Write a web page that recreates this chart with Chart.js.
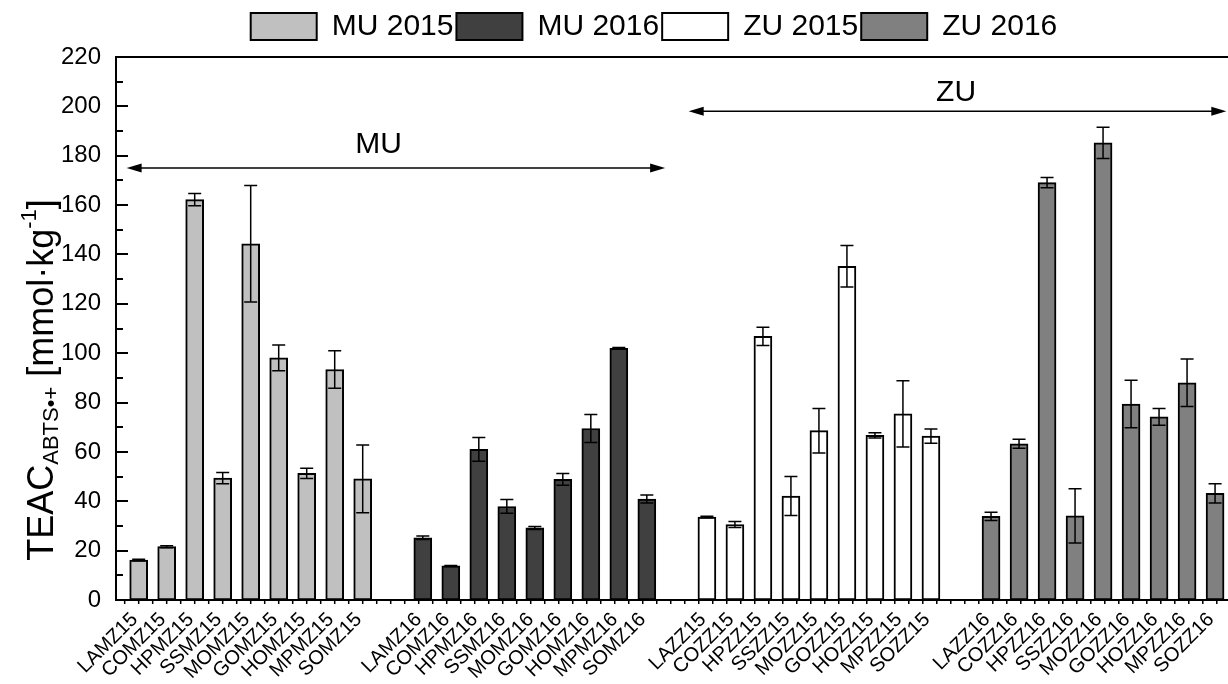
<!DOCTYPE html>
<html><head><meta charset="utf-8">
<script src="https://cdn.jsdelivr.net/npm/chart.js@4.4.1/dist/chart.umd.min.js"></script>
<style>html,body{margin:0;padding:0;background:#fff;}#wrap{width:1228px;height:684px;position:relative;}</style>
</head><body><div id="wrap"><canvas id="c" width="1228" height="684"></canvas></div>
<script>
// ---------- data ----------
const seriesNames = ['MU 2015', 'MU 2016', 'ZU 2015', 'ZU 2016'];
const mu15Labels = ['LAMZ15','COMZ15','HPMZ15','SSMZ15','MOMZ15','GOMZ15','HOMZ15','MPMZ15','SOMZ15'];
const mu16Labels = ['LAMZ16','COMZ16','HPMZ16','SSMZ16','MOMZ16','GOMZ16','HOMZ16','MPMZ16','SOMZ16'];
const zu15Labels = ['LAZZ15','COZZ15','HPZZ15','SSZZ15','MOZZ15','GOZZ15','HOZZ15','MPZZ15','SOZZ15'];
const zu16Labels = ['LAZZ16','COZZ16','HPZZ16','SSZZ16','MOZZ16','GOZZ16','HOZZ16','MPZZ16','SOZZ16'];
const mu15Values = [16.2, 21.6, 162.2, 49.4, 144.3, 98.1, 51.3, 93.4, 49.1];
const mu15Errors = [0.3, 0.4, 2.5, 2.3, 23.6, 5.2, 2.1, 7.6, 13.7];
const mu16Values = [25.2, 13.8, 61.0, 37.9, 29.2, 48.9, 69.5, 102.0, 40.9];
const mu16Errors = [0.7, 0.2, 4.8, 2.8, 0.6, 2.4, 5.7, 0.3, 1.6];
const zu15Values = [33.6, 30.6, 106.8, 42.1, 68.6, 135.2, 66.7, 75.4, 66.4];
const zu15Errors = [0.3, 1.2, 3.7, 7.9, 9.0, 8.4, 1.1, 13.4, 2.9];
const zu16Values = [33.9, 63.3, 169.1, 34.1, 185.2, 79.4, 74.2, 88.0, 43.2];
const zu16Errors = [1.7, 1.8, 2.1, 11.0, 6.3, 9.6, 3.4, 9.6, 3.9];
const yTickValues = [0, 20, 40, 60, 80, 100, 120, 140, 160, 180, 200, 220];
const groupTitles = ['MU', 'ZU'];

// ---------- layout / style ----------
const FONT = '"Liberation Sans", Arial, Helvetica, sans-serif';
const GAP = 2.146;               // spacing between groups (in bar slots)
const colors = ['#c0c0c0', '#404040', '#ffffff', '#808080'];
const groupLabels = [mu15Labels, mu16Labels, zu15Labels, zu16Labels];
const groupValues = [mu15Values, mu16Values, zu15Values, zu16Values];
const groupErrors = [mu15Errors, mu16Errors, zu15Errors, zu16Errors];
function slot(g, i) { return g * (8 + GAP) + i; }
const allPositions = [], allLabels = [];
groupLabels.forEach((labs, g) => labs.forEach((l, i) => { allPositions.push(slot(g, i)); allLabels.push(l); }));

// annotation layout (x in slot units, y in data units)
const annotations = [
  {text: groupTitles[0], x1: -0.43, x2: 18.8, y: 175, tx: 8.57, ty: 184.5},
  {text: groupTitles[1], x1: 19.64, x2: 38.84, y: 198, tx: 29.19, ty: 205.6}
];

const datasets = groupValues.map((vals, g) => ({
  label: seriesNames[g],
  data: vals.map((v, i) => ({x: slot(g, i), y: v})),
  errors: groupErrors[g],
  backgroundColor: colors[g],
  borderColor: '#000',
  borderWidth: 2,
  borderSkipped: false,
  barThickness: 18,
  grouped: false
}));

const legendFit = {
  id: 'legendFit',
  afterInit(chart) {
    const lg = chart.legend;
    if (!lg) return;
    const origFit = lg.fit.bind(lg);
    lg.fit = function () { origFit(); this.height = 48.5; };
    const origDraw = lg.draw.bind(lg);
    lg.draw = function () { const c = this.ctx; c.save(); c.translate(40, 0); origDraw(); c.restore(); };
  }
};

const errorBars = {
  id: 'errorBars',
  afterDatasetsDraw(chart) {
    const ctx = chart.ctx, ys = chart.scales.y;
    chart.data.datasets.forEach((ds, di) => {
      const meta = chart.getDatasetMeta(di);
      meta.data.forEach((bar, i) => {
        const v = ds.data[i].y, e = ds.errors[i];
        const x = bar.x, yt = ys.getPixelForValue(v + e), yb = ys.getPixelForValue(v - e);
        ctx.save();
        ctx.strokeStyle = '#000'; ctx.lineWidth = 1.5;
        ctx.beginPath();
        ctx.moveTo(x, yt); ctx.lineTo(x, yb);
        ctx.moveTo(x - 6.5, yt); ctx.lineTo(x + 6.5, yt);
        ctx.moveTo(x - 6.5, yb); ctx.lineTo(x + 6.5, yb);
        ctx.stroke();
        ctx.restore();
      });
    });
  }
};

const axisDecor = {
  id: 'axisDecor',
  afterDraw(chart) {
    const ctx = chart.ctx, a = chart.chartArea, ys = chart.scales.y, xs = chart.scales.x;
    ctx.save();
    ctx.strokeStyle = '#000'; ctx.lineWidth = 2;
    ctx.beginPath();
    ctx.moveTo(a.left - 1, a.top); ctx.lineTo(a.right, a.top);
    for (let v = 0; v <= 220; v += 10) {
      const p = Math.round(ys.getPixelForValue(v));
      const len = (v % 20 === 0) ? 12 : 7;
      ctx.moveTo(a.left, p); ctx.lineTo(a.left + len, p);
    }
    ctx.stroke();
    ctx.lineWidth = 1.5;
    ctx.beginPath();
    for (let v = -0.5; v <= xs.max; v += 0.5) {
      const p = xs.getPixelForValue(v);
      ctx.moveTo(p, a.bottom); ctx.lineTo(p, a.bottom + 4);
    }
    ctx.stroke();
    ctx.restore();
  }
};

const groupArrows = {
  id: 'groupArrows',
  afterDraw(chart) {
    const ctx = chart.ctx, xs = chart.scales.x, ys = chart.scales.y;
    ctx.save();
    annotations.forEach(an => {
      const x1 = xs.getPixelForValue(an.x1), x2 = xs.getPixelForValue(an.x2), y = ys.getPixelForValue(an.y);
      ctx.strokeStyle = '#000'; ctx.fillStyle = '#000'; ctx.lineWidth = 1.5;
      ctx.beginPath(); ctx.moveTo(x1 + 10, y); ctx.lineTo(x2 - 10, y); ctx.stroke();
      ctx.beginPath(); ctx.moveTo(x1, y); ctx.lineTo(x1 + 15, y - 4.5); ctx.lineTo(x1 + 15, y + 4.5); ctx.closePath(); ctx.fill();
      ctx.beginPath(); ctx.moveTo(x2, y); ctx.lineTo(x2 - 15, y - 4.5); ctx.lineTo(x2 - 15, y + 4.5); ctx.closePath(); ctx.fill();
      ctx.font = '30px ' + FONT; ctx.textAlign = 'center'; ctx.textBaseline = 'middle';
      ctx.fillText(an.text, xs.getPixelForValue(an.tx), ys.getPixelForValue(an.ty));
    });
    ctx.restore();
  }
};

const yTitle = {
  id: 'yTitle',
  afterDraw(chart) {
    const ctx = chart.ctx;
    const parts = [
      {t: 'TEAC', size: 36, dy: 0},
      {t: 'ABTS\u2022+', size: 22, dy: 5},
      {t: ' [mmol\u00B7kg', size: 36, dy: 0},
      {t: '-1', size: 22, dy: -17},
      {t: ']', size: 36, dy: 0}
    ];
    ctx.save();
    ctx.fillStyle = '#000'; ctx.textBaseline = 'alphabetic'; ctx.textAlign = 'left';
    let total = 0;
    parts.forEach(p => { ctx.font = p.size + 'px ' + FONT; total += ctx.measureText(p.t).width; });
    const centerY = 380;
    ctx.translate(53, centerY + total / 2);
    ctx.rotate(-Math.PI / 2);
    let x = 0;
    parts.forEach(p => { ctx.font = p.size + 'px ' + FONT; ctx.fillText(p.t, x, p.dy); x += ctx.measureText(p.t).width; });
    ctx.restore();
  }
};

new Chart(document.getElementById('c'), {
  type: 'bar',
  data: {datasets},
  options: {
    responsive: false,
    animation: false,
    devicePixelRatio: 1,
    layout: {padding: {left: 0, top: 8.5, right: 0, bottom: 0}},
    plugins: {
      tooltip: {enabled: false},
      legend: {
        display: true, position: 'top',
        labels: {boxWidth: 66, boxHeight: 27, padding: 3, color: '#000', font: {size: 30, family: FONT}}
      }
    },
    scales: {
      x: {
        type: 'linear', min: -0.81, max: 38.9, offset: false,
        grid: {display: false, drawTicks: false},
        border: {display: true, color: '#000', width: 2},
        afterBuildTicks: s => { s.ticks = allPositions.map(v => ({value: v})); },
        afterFit: s => { s.height = 84; s.paddingLeft = 0; s.paddingRight = 0; },
        ticks: {
          autoSkip: false, minRotation: 45, maxRotation: 45, padding: 8, labelOffset: -4, color: '#000',
          font: {size: 20, family: FONT},
          callback: (v, i) => allLabels[i]
        }
      },
      y: {
        min: 0, max: 220,
        grid: {display: false, drawTicks: false},
        border: {display: true, color: '#000', width: 2},
        afterBuildTicks: s => { s.ticks = yTickValues.map(v => ({value: v})); },
        afterFit: s => { s.width = 116; },
        ticks: {padding: 15, color: '#000', font: {size: 24, family: FONT}}
      }
    }
  },
  plugins: [legendFit, errorBars, axisDecor, groupArrows, yTitle]
});
</script></body></html>
